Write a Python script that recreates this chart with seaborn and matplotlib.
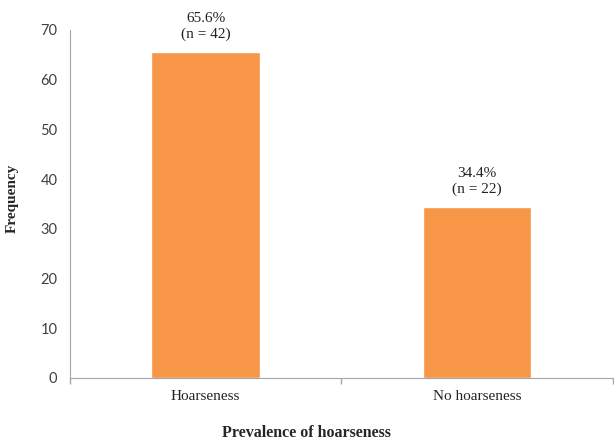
import numpy as np
import pandas as pd
import matplotlib
matplotlib.use("Agg")
import matplotlib.pyplot as plt
import seaborn as sns

# Data
categories = ["Hoarseness", "No hoarseness"]
percentages = [65.6, 34.4]
counts = [42, 22]

df = pd.DataFrame({"category": categories, "pct": percentages, "n": counts})

sns.set_style("white")
plt.rcParams["font.family"] = ["Liberation Serif", "DejaVu Serif"]

fig = plt.figure(figsize=(6.14, 4.41), dpi=100)
ax = fig.add_axes([0.114, 0.143, 0.884, 0.789])

sns.barplot(data=df, x="category", y="pct", color="#F79646", width=0.4,
            saturation=1, ax=ax)

# Labels above bars
for i, row in df.iterrows():
    ax.annotate(f"{row['pct']:.1f}%\n(n = {row['n']})",
                (i, row["pct"]), xytext=(0, 8), textcoords="offset points",
                ha="center", va="bottom", fontsize=11, color="#222222",
                linespacing=1.25)

ax.set_xlim(-0.5, 1.5)
ax.set_ylim(0, 70)
ax.set_yticks(np.arange(0, 71, 10))

axis_col = "#A6A6A6"
for side in ["top", "right"]:
    ax.spines[side].set_visible(False)
ax.spines["left"].set_color(axis_col)
ax.spines["bottom"].set_color(axis_col)

ax.tick_params(axis="y", direction="out", length=5, color=axis_col,
               labelsize=10.5, labelcolor="#404040", pad=4)
for lab in ax.get_yticklabels():
    lab.set_family(["Lato", "DejaVu Sans"])

# Excel-style tick marks between categories
ax.set_xticks([-0.5, 0.5, 1.5], minor=True)
ax.tick_params(axis="x", which="minor", direction="out", length=4,
               width=1, color=axis_col, bottom=True)
ax.tick_params(axis="x", which="major", length=0, labelsize=11,
               labelcolor="#222222", pad=9)

ax.set_xlabel("Prevalence of hoarseness", fontsize=11.5, fontweight="bold")
ax.set_ylabel("Frequency", fontsize=11, fontweight="bold")
ax.xaxis.set_label_coords(0.436, -0.134)
ax.yaxis.set_label_coords(-0.094, 0.517)

fig.savefig("out.png", dpi=100)
